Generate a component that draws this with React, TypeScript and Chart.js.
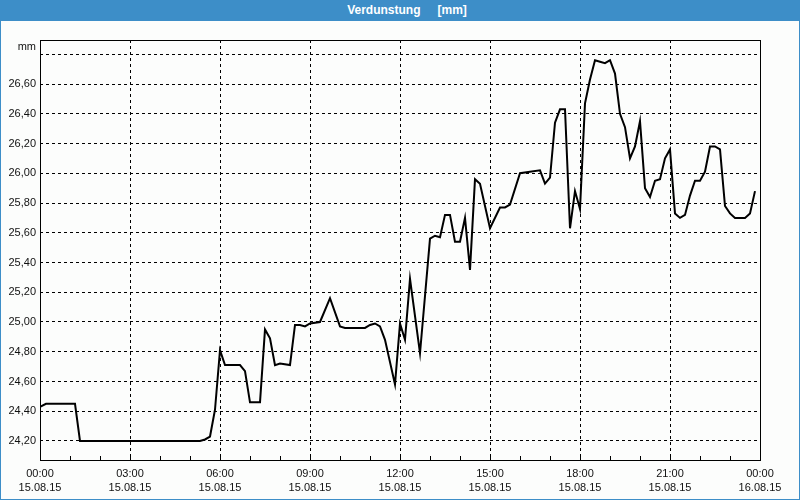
import React, { useEffect, useRef } from "react";
import { Chart, registerables } from "chart.js";

Chart.register(...registerables);

const minutes = [
  0, 12, 70, 80, 320, 330, 340, 350, 360, 370, 400, 410, 420, 440, 450, 460, 470, 480, 500, 510,
  520, 530, 540, 560, 580, 600, 610, 650, 660, 670, 680, 690, 710, 720, 730, 740, 760, 780, 790, 800,
  810, 820, 830, 840, 850, 860, 870, 880, 900, 920, 930, 940, 960, 980, 1000, 1010, 1020, 1030, 1040, 1050,
  1060, 1070, 1080, 1090, 1100, 1110, 1120, 1130, 1140, 1150, 1160, 1170, 1180, 1190, 1200, 1210, 1220, 1230, 1240, 1250,
  1260, 1270, 1280, 1290, 1300, 1310, 1320, 1330, 1340, 1350, 1360, 1370, 1380, 1390, 1410, 1420, 1430,
];
const values = [
  24.43, 24.45, 24.45, 24.2, 24.2, 24.21, 24.23, 24.41, 24.81, 24.71, 24.71, 24.67, 24.46, 24.46, 24.95, 24.89, 24.71, 24.72, 24.71, 24.98,
  24.98, 24.97, 24.99, 25.0, 25.16, 24.97, 24.96, 24.96, 24.98, 24.99, 24.97, 24.88, 24.58, 24.99, 24.88, 25.29, 24.79, 25.56, 25.58, 25.57,
  25.72, 25.72, 25.54, 25.54, 25.7, 25.35, 25.96, 25.93, 25.63, 25.77, 25.77, 25.79, 26.0, 26.01, 26.02, 25.93, 25.97, 26.34, 26.43, 26.43,
  25.63, 25.88, 25.76, 26.47, 26.63, 26.76, 26.75, 26.74, 26.76, 26.67, 26.4, 26.31, 26.1, 26.18, 26.35, 25.9, 25.84, 25.95, 25.96, 26.1,
  26.16, 25.73, 25.7, 25.72, 25.85, 25.95, 25.95, 26.01, 26.18, 26.18, 26.16, 25.78, 25.73, 25.7, 25.7, 25.73, 25.88,
];
const yTicks = [24.2, 24.4, 24.6, 24.8, 25.0, 25.2, 25.4, 25.6, 25.8, 26.0, 26.2, 26.4, 26.6, 26.8];
const xTickTimes = ["00:00", "03:00", "06:00", "09:00", "12:00", "15:00", "18:00", "21:00", "00:00"];
const xTickDates = ["15.08.15", "15.08.15", "15.08.15", "15.08.15", "15.08.15", "15.08.15", "15.08.15", "15.08.15", "16.08.15"];
const titleText = "Verdunstung";
const unitText = "[mm]";
const axisUnit = "mm";

const FONT = "'Liberation Sans', Arial, sans-serif";

export default function App() {
  const ref = useRef<HTMLCanvasElement | null>(null);

  useEffect(() => {
    document.body.style.margin = "0";
    const canvas = ref.current!;
    const framePlugin = {
      id: "frame",
      afterDraw(chart: any) {
        const { ctx, chartArea } = chart;
        const { left, right, top, bottom } = chartArea;
        ctx.save();
        ctx.strokeStyle = "#000";
        ctx.lineWidth = 1;
        ctx.setLineDash([]);
        ctx.strokeRect(Math.round(left) + 0.5, Math.round(top) + 0.5, Math.round(right - left), Math.round(bottom - top));
        // minor hour ticks, inside
        const xs = chart.scales.x;
        ctx.beginPath();
        for (let m = 60; m < 1440; m += 60) {
          const px = Math.round(xs.getPixelForValue(m)) + 0.5;
          ctx.moveTo(px, Math.round(bottom));
          ctx.lineTo(px, Math.round(bottom) - 4);
        }
        ctx.stroke();
        ctx.fillStyle = "#111";
        ctx.font = `11px ${FONT}`;
        ctx.textAlign = "right";
        ctx.textBaseline = "middle";
        ctx.fillText(axisUnit, left - 4, top + 7);
        ctx.restore();
      },
    };

    const chart = new Chart(canvas, {
      type: "line",
      data: {
        datasets: [
          {
            data: minutes.map((m, i) => ({ x: m, y: values[i] })),
            borderColor: "#000",
            borderWidth: 2,
            pointRadius: 0,
            tension: 0,
            fill: false,
          },
        ],
      },
      options: {
        animation: false,
        responsive: false,
        maintainAspectRatio: false,
        layout: { padding: { top: 19, right: 39, left: 0, bottom: 0 } },
        plugins: { legend: { display: false }, tooltip: { enabled: false }, title: { display: false } },
        scales: {
          x: {
            type: "linear",
            min: 0,
            max: 1440,
            afterFit(scale: any) {
              scale.height = 39;
            },
            afterBuildTicks(scale: any) {
              const t = [];
              for (let m = 0; m <= 1440; m += 180) t.push({ value: m });
              scale.ticks = t;
            },
            ticks: {
              autoSkip: false,
              maxRotation: 0,
              minRotation: 0,
              padding: 7,
              color: "#111",
              font: { family: FONT, size: 11, lineHeight: 14 / 11 },
              callback: (v: any) => {
                const i = Math.round(Number(v) / 180);
                return [xTickTimes[i], xTickDates[i]];
              },
            },
            grid: {
              drawTicks: false,
              color: (c: any) => (c.tick && c.tick.value > 0 && c.tick.value < 1440 ? "#000" : "rgba(0,0,0,0)"),
              lineWidth: 1,
            },
            border: { display: false, dash: [3, 3] },
          },
          y: {
            type: "linear",
            min: 24.072,
            max: 26.896,
            afterFit(scale: any) {
              scale.width = 39;
            },
            afterBuildTicks(scale: any) {
              scale.ticks = yTicks.map((v) => ({ value: v }));
            },
            ticks: {
              padding: 4,
              color: "#111",
              font: { family: FONT, size: 11 },
              callback: (v: any) => (Math.abs(Number(v) - 26.8) < 1e-6 ? "" : Number(v).toFixed(2).replace(".", ",")),
            },
            grid: { drawTicks: false, color: "#000", lineWidth: 1 },
            border: { display: false, dash: [3, 3] },
          },
        },
      },
      plugins: [framePlugin],
    } as any);
    return () => chart.destroy();
  }, []);

  return (
    <div
      style={{
        position: "fixed",
        left: 0,
        top: 0,
        width: 800,
        height: 500,
        background: "#3d8ec8",
        boxSizing: "border-box",
      }}
    >
      <div
        style={{
          height: 21,
          lineHeight: "21px",
          textAlign: "center",
          color: "#fff",
          fontFamily: FONT,
          fontWeight: "bold",
          fontSize: 12,
          paddingLeft: 14,
        }}
      >
        <span>{titleText}</span>
        <span style={{ marginLeft: 17 }}>{unitText}</span>
      </div>
      <div style={{ position: "absolute", left: 1, top: 21, width: 798, height: 478, background: "#fcfdfc" }}>
        <canvas ref={ref} width={798} height={478} style={{ display: "block" }} />
      </div>
    </div>
  );
}
